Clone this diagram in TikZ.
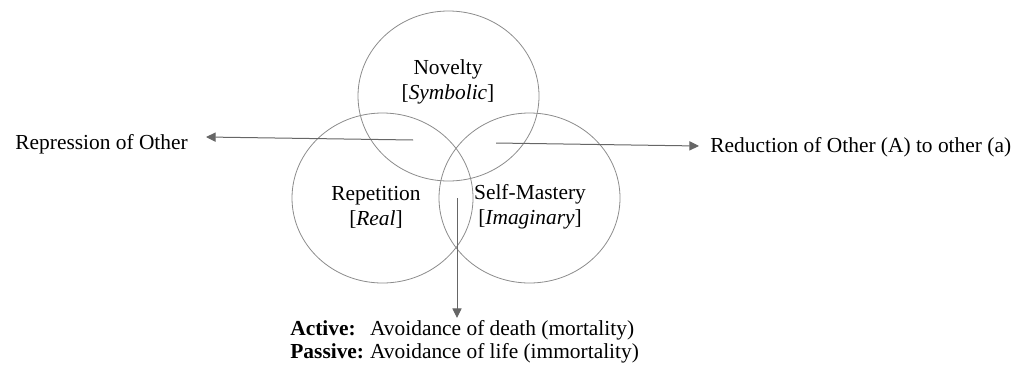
\documentclass[tikz,border=0pt]{standalone}
\usepackage{fontspec}
\setmainfont{Liberation Serif}
\usepackage{tikz}
\usetikzlibrary{arrows.meta,positioning,shapes.geometric}
\tikzset{
  ring/.style={ellipse, draw=black!45, line width=0.4pt, minimum width=90.5pt, minimum height=85pt, inner sep=0pt},
  lab/.style={align=center, inner sep=0pt, font=\fontsize{10.7}{12.5}\selectfont},
  sig/.style={-{Triangle[length=4.8pt,width=4.6pt]}, draw=black!60, line width=0.5pt},
}

\begin{document}
\begin{tikzpicture}[x=0.5pt, y=-0.5pt]
    \useasboundingbox (0,0) rectangle (1031,364);
    \node[ring] (nov) at (448.5,96) {};
    \node[ring] (rep) at (382.5,198) {};
    \node[ring] (mas) at (529.5,198) {};
    \node[lab] (novtxt) at (448,82) {Novelty\\ {[}\textit{Symbolic}{]}};
    \node[lab] (reptxt) at (376,207) {Repetition\\ {[}\textit{Real}{]}};
    \node[lab] (mastxt) at (530,207) {Self-Mastery\\ {[}\textit{Imaginary}{]}};
    \node[lab, anchor=west] (repr) at (15,144) {Repression of Other};
    \node[lab, anchor=west] (redu) at (710,147) {Reduction of Other (A) to other (a)};
    \node[lab, anchor=north west, align=left] (avoid) at (290,318)
      {\begin{tabular}{@{}l@{\hspace{3pt}}l@{}}
        \textbf{Active:} & Avoidance of death (mortality)\\[-1pt]
        \textbf{Passive:} & Avoidance of life (immortality)
      \end{tabular}};
    \coordinate (lft) at (413,140);
    \coordinate (lfttip) at (206,137);
    \coordinate (rgt) at (496,143);
    \coordinate (rgttip) at (699,146);
    \coordinate (dwn) at (457,198);
    \draw[sig] (lft) -- (lfttip);
    \draw[sig] (rgt) -- (rgttip);
    \draw[sig] (dwn) -- (dwn |- avoid.north);
  \end{tikzpicture}
\end{document}
